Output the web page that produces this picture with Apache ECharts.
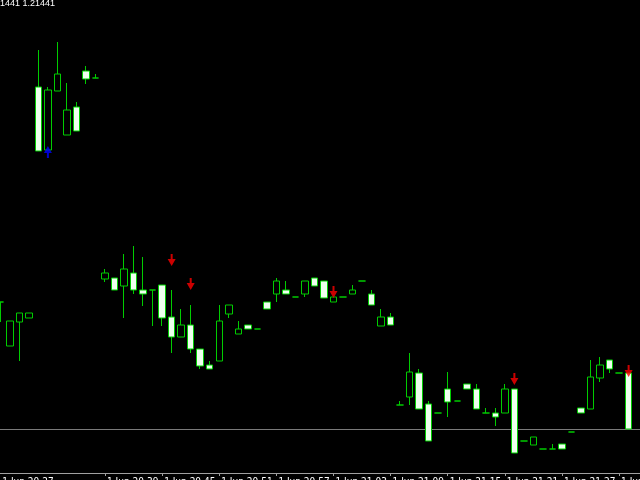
<!DOCTYPE html>
<html>
<head>
<meta charset="utf-8">
<style>
  html, body { margin: 0; padding: 0; background: #000; }
  #chart { width: 640px; height: 480px; }
</style>
<script src="https://cdn.jsdelivr.net/npm/echarts@6/dist/echarts.min.js"></script>
</head>
<body>
<div id="chart"></div>
<script>
// Candle data (prices)
const openPrices = [
  1.21568, 1.21524, 1.21548, 1.21552, 1.21783, 1.21720, 1.21779, 1.21735, 1.21763, 1.21799,
  1.21792, 1.21591, 1.21592, 1.21584, 1.21597, 1.21580, 1.21580, 1.21585, 1.21553, 1.21533,
  1.21545, 1.21521, 1.21505, 1.21509, 1.21556, 1.21536, 1.21545, 1.21541, 1.21568, 1.21576,
  1.21580, 1.21573, 1.21576, 1.21592, 1.21589, 1.21568, 1.21573, 1.21576, 1.21589, 1.21576,
  1.21544, 1.21553, 1.21465, 1.21473, 1.21497, 1.21466, 1.21457, 1.21481, 1.21469, 1.21486,
  1.21481, 1.21457, 1.21457, 1.21457, 1.21481, 1.21429, 1.21425, 1.21421, 1.21421, 1.21426,
  1.21438, 1.21462, 1.21461, 1.21492, 1.21510, 1.21497, 1.21497
];
const closePrices = [
  1.21568, 1.21549, 1.21557, 1.21557, 1.21719, 1.21780, 1.21796, 1.21760, 1.21739, 1.21791,
  1.21792, 1.21597, 1.21580, 1.21601, 1.21580, 1.21576, 1.21580, 1.21552, 1.21533, 1.21545,
  1.21521, 1.21504, 1.21501, 1.21549, 1.21565, 1.21541, 1.21541, 1.21541, 1.21561, 1.21589,
  1.21576, 1.21573, 1.21589, 1.21584, 1.21572, 1.21573, 1.21573, 1.21580, 1.21589, 1.21565,
  1.21553, 1.21545, 1.21465, 1.21498, 1.21461, 1.21429, 1.21457, 1.21468, 1.21469, 1.21481,
  1.21461, 1.21457, 1.21453, 1.21481, 1.21417, 1.21429, 1.21433, 1.21421, 1.21421, 1.21421,
  1.21438, 1.21457, 1.21493, 1.21505, 1.21501, 1.21497, 1.21441
];
const lowPrices = [
  1.21548, 1.21524, 1.21509, 1.21552, 1.21719, 1.21720, 1.21779, 1.21735, 1.21739, 1.21786,
  1.21792, 1.21588, 1.21580, 1.21552, 1.21576, 1.21564, 1.21544, 1.21544, 1.21517, 1.21533,
  1.21517, 1.21501, 1.21501, 1.21509, 1.21552, 1.21536, 1.21541, 1.21541, 1.21561, 1.21568,
  1.21576, 1.21573, 1.21573, 1.21584, 1.21572, 1.21568, 1.21573, 1.21576, 1.21589, 1.21565,
  1.21544, 1.21545, 1.21465, 1.21465, 1.21461, 1.21429, 1.21457, 1.21453, 1.21469, 1.21481,
  1.21461, 1.21457, 1.21444, 1.21457, 1.21417, 1.21429, 1.21425, 1.21421, 1.21421, 1.21421,
  1.21438, 1.21457, 1.21461, 1.21488, 1.21497, 1.21497, 1.21441
];
const highPrices = [
  1.21568, 1.21549, 1.21557, 1.21557, 1.21820, 1.21783, 1.21828, 1.21787, 1.21768, 1.21804,
  1.21796, 1.21601, 1.21592, 1.21616, 1.21624, 1.21613, 1.21580, 1.21585, 1.21580, 1.21561,
  1.21565, 1.21521, 1.21509, 1.21565, 1.21565, 1.21549, 1.21545, 1.21541, 1.21568, 1.21592,
  1.21589, 1.21573, 1.21589, 1.21592, 1.21589, 1.21573, 1.21573, 1.21585, 1.21589, 1.21580,
  1.21561, 1.21557, 1.21469, 1.21517, 1.21501, 1.21469, 1.21457, 1.21498, 1.21469, 1.21486,
  1.21486, 1.21462, 1.21462, 1.21486, 1.21481, 1.21429, 1.21433, 1.21421, 1.21426, 1.21426,
  1.21438, 1.21462, 1.21510, 1.21513, 1.21510, 1.21497, 1.21497
];

// Signal arrows
const sellArrowIdx = [18, 20, 35, 54, 66];
const sellArrowPrice = [1.21610, 1.21586, 1.21578, 1.21491, 1.21499];
const buyArrowIdx = [5];
const buyArrowPrice = [1.21718];

// Bid line
const bidPrice = 1.21441;

// Time axis tick labels (bar index -> label)
const tickIdx = [0, 5, 11, 17, 23, 29, 35, 41, 47, 53, 59, 65];
const tickLabels = ['1 Jun 20:27', '1 Jun 20:33', '1 Jun 20:39', '1 Jun 20:45', '1 Jun 20:51', '1 Jun 20:57',
                    '1 Jun 21:03', '1 Jun 21:09', '1 Jun 21:15', '1 Jun 21:21', '1 Jun 21:27', '1 Jun 21:33'];

const categories = openPrices.map((_, i) => String(i)).concat(['']);
const candleData = openPrices.map((o, i) => [o, closePrices[i], lowPrices[i], highPrices[i]]);
const tickSet = {};
tickIdx.forEach((t, k) => { tickSet[t] = tickLabels[k]; });

const GREEN = '#00cc00';
const chart = echarts.init(document.getElementById('chart'), null, { renderer: 'canvas' });
chart.setOption({
  backgroundColor: '#000000',
  animation: false,
  grid: { left: -4.46, right: -2.9, top: 0, bottom: 7, containLabel: false, outerBoundsMode: 'none' },
  xAxis: {
    type: 'category',
    data: categories,
    boundaryGap: true,
    axisLine: { show: true, lineStyle: { color: '#a0a0a0', width: 1 } },
    axisTick: {
      show: true, alignWithLabel: true, length: 3,
      lineStyle: { color: '#a0a0a0' },
      interval: (index) => tickSet[index] !== undefined && index !== 0
    },
    axisLabel: {
      show: true, color: '#ffffff', fontSize: 10,
      fontFamily: 'Liberation Sans Narrow, DejaVu Sans Condensed, sans-serif',
      align: 'left', margin: 4, padding: [0, 0, 0, 2],
      showMinLabel: true, hideOverlap: false,
      interval: (index) => tickSet[index] !== undefined,
      formatter: (value, index) => tickSet[index] || ''
    },
    splitLine: { show: false }
  },
  yAxis: {
    type: 'value', min: 1.21397, max: 1.21870, show: false,
    splitLine: { show: false }
  },
  series: [
    {
      type: 'candlestick',
      data: candleData,
      barWidth: 7,
      z: 3,
      itemStyle: {
        color: '#000000', color0: '#eeffee',
        borderColor: GREEN, borderColor0: GREEN, borderColorDoji: GREEN,
        borderWidth: 1
      },
      markLine: {
        silent: true, symbol: ['none', 'none'], animation: false, z: 1,
        label: { show: false },
        lineStyle: { color: '#7a7a7a', width: 1, type: 'solid' },
        data: [[
          { coord: [0, bidPrice], x: 0 },
          { coord: [categories.length - 1, bidPrice], x: 640 }
        ]]
      }
    },
    {
      type: 'scatter',
      data: sellArrowIdx.map((x, k) => [x, sellArrowPrice[k]]),
      symbol: 'path://M3,0 L5,0 L5,5 L8,5 L4,12 L0,5 L3,5 Z',
      symbolSize: [8, 12],
      itemStyle: { color: '#ff0000' },
      z: 5
    },
    {
      type: 'scatter',
      data: buyArrowIdx.map((x, k) => [x, buyArrowPrice[k]]),
      symbol: 'path://M4,0 L8,7 L5,7 L5,12 L3,12 L3,7 L0,7 Z',
      symbolSize: [8, 12],
      itemStyle: { color: '#0000ff' },
      z: 5
    }
  ],
  graphic: [
    {
      type: 'text', left: 0, top: -1,
      style: {
        text: '1441 1.21441', fill: '#ffffff',
        font: '9px "Liberation Sans", sans-serif'
      }
    }
  ]
});
</script>
</body>
</html>
